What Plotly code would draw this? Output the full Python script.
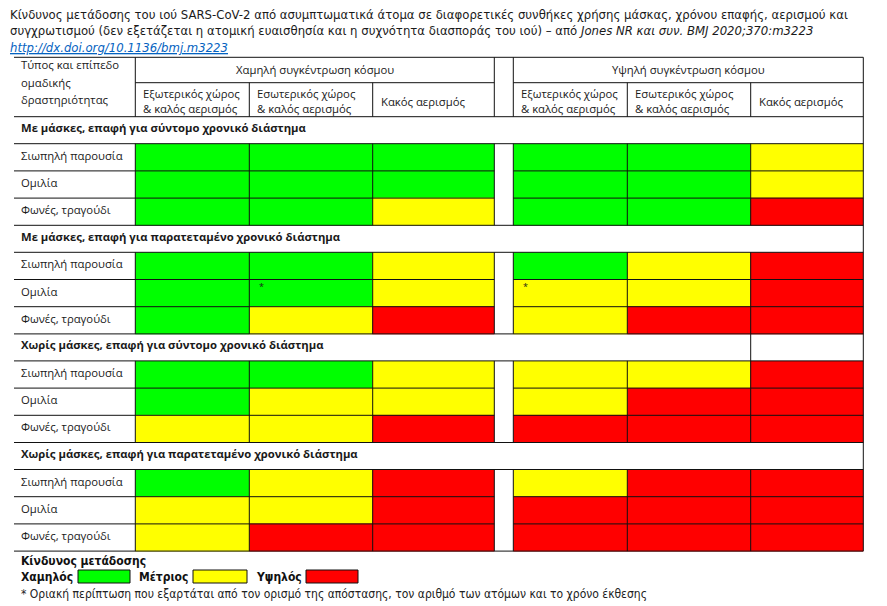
"""Risk of SARS-CoV-2 transmission table (Jones NR et al., BMJ 2020) drawn with Plotly.

Cells are heatmap bricks on a pixel-like axis, borders are one line trace.
"""
import plotly.graph_objects as go

# ---- data -------------------------------------------------------------
title_lines = [
    "Κίνδυνος μετάδοσης του ιού SARS-CoV-2 από ασυμπτωματικά άτομα σε διαφορετικές συνθήκες χρήσης μάσκας, χρόνου επαφής, αερισμού και",
    "συγχρωτισμού (δεν εξετάζεται η ατομική ευαισθησία και η συχνότητα διασποράς του ιού) – από <i>Jones NR και συν. BMJ 2020;370:m3223</i>",
]
doi_link = "http://dx.doi.org/10.1136/bmj.m3223"

row_header = ["Τύπος και επίπεδο", "ομαδικής", "δραστηριότητας"]
crowd_groups = ["Χαμηλή συγκέντρωση κόσμου", "Υψηλή συγκέντρωση κόσμου"]
settings = ["Εξωτερικός χώρος<br>& καλός αερισμός", "Εσωτερικός χώρος<br>& καλός αερισμός", "Κακός αερισμός"]
activities = ["Σιωπηλή παρουσία", "Ομιλία", "Φωνές, τραγούδι"]
sections = [
    "Με μάσκες, επαφή για σύντομο χρονικό διάστημα",
    "Με μάσκες, επαφή για παρατεταμένο χρονικό διάστημα",
    "Χωρίς μάσκες, επαφή για σύντομο χρονικό διάστημα",
    "Χωρίς μάσκες, επαφή για παρατεταμένο χρονικό διάστημα",
]

# risk level: 0 = low, 1 = moderate, 2 = high
# columns: low crowd (out, in, poor vent.), high crowd (out, in, poor vent.)
risk_masks_short = [[0, 0, 0, 0, 0, 1], [0, 0, 0, 0, 0, 1], [0, 0, 1, 0, 0, 2]]
risk_masks_long = [[0, 0, 1, 0, 1, 2], [0, 0, 1, 1, 1, 2], [0, 1, 2, 1, 2, 2]]
risk_nomask_short = [[0, 0, 1, 1, 1, 2], [0, 1, 1, 1, 2, 2], [1, 1, 2, 2, 2, 2]]
risk_nomask_long = [[0, 1, 2, 1, 2, 2], [1, 1, 2, 2, 2, 2], [1, 2, 2, 2, 2, 2]]
section_risks = [risk_masks_short, risk_masks_long, risk_nomask_short, risk_nomask_long]

# borderline cells (section, activity, column) marked with an asterisk
borderline_cells = [(1, 1, 1), (1, 1, 3)]

risk_levels = ["Χαμηλός", "Μέτριος", "Υψηλός"]
legend_title = "Κίνδυνος μετάδοσης"
footnote = "* Οριακή περίπτωση που εξαρτάται από τον ορισμό της απόστασης, τον αριθμό των ατόμων και το χρόνο έκθεσης"

# ---- layout constants (page pixel space; the page body has an 8px margin) ----
W, H = 887, 606
PAGE_OFF = 8
RISK_COLORS = ["#00ff00", "#ffff00", "#ff0000"]
LINE_COLOR = "#111111"
TABLE_FONT = "Open Sans, Noto Sans, sans-serif"
NARROW_FONT = "DejaVu Sans Condensed, Liberation Sans, sans-serif"

col_edges = [14, 135.3, 249.3, 372.7, 494.3, 513.3, 627.3, 750.7, 863.3]
x_left, x_right = col_edges[0], col_edges[-1]
gap_l, gap_r = col_edges[4], col_edges[5]
y_top, y_head_mid, y_head_bot = 57.3, 82.7, 116.7
sec_head_h = 27.0
row_h = 27.2

fig = go.Figure()
annotations = []
segs_x, segs_y = [], []


def seg(x0, y0, x1, y1):
    segs_x.extend([x0, x1, None])
    segs_y.extend([y0, y1, None])


def text(x, y, s, size=11.3, font=TABLE_FONT, color="#1a1a1a", xanchor="left"):
    annotations.append(dict(
        x=x, y=y, xref="x", yref="y", text=s, showarrow=False,
        xanchor=xanchor, yanchor="middle", align="left", borderpad=0,
        font=dict(family=font, size=size, color=color),
    ))


# title
for i, line in enumerate(title_lines):
    text(8.5, 14.5 + i * 16.3, line, size=13, font=NARROW_FONT, color="#1a1a1a")
text(8.5, 47, "<i><span style='text-decoration:underline'>" + doi_link + "</span></i>",
     size=13, font=NARROW_FONT, color="#0563c1")

# header
for i, s in enumerate(row_header):
    text(20, 64.5 + i * 17.5, s)
for g, name in enumerate(crowd_groups):
    a, b = (col_edges[1], col_edges[4]) if g == 0 else (col_edges[5], col_edges[8])
    text((a + b) / 2, 69, name, xanchor="center")
    for k, s in enumerate(settings):
        c0 = col_edges[1 + k] if g == 0 else col_edges[5 + k]
        text(c0 + 7, 101, s)

seg(x_left, y_top, x_right, y_top)
seg(col_edges[1], y_head_mid, gap_l, y_head_mid)
seg(gap_r, y_head_mid, x_right, y_head_mid)
seg(x_left, y_head_bot, x_right, y_head_bot)
for xc in [col_edges[1], gap_l, gap_r]:
    seg(xc, y_top, xc, y_head_bot)
for xc in [col_edges[2], col_edges[3], col_edges[6], col_edges[7]]:
    seg(xc, y_head_mid, xc, y_head_bot)

# sections
y = y_head_bot
colorscale = [[0, RISK_COLORS[0]], [0.5, RISK_COLORS[1]], [1, RISK_COLORS[2]]]
for s_idx, (sec_name, risks) in enumerate(zip(sections, section_risks)):
    sec_top = y
    sec_bot = sec_top + sec_head_h
    text(20, sec_top + 11, "<b>" + sec_name + "</b>")
    seg(x_left, sec_bot, x_right, sec_bot)
    if s_idx == 2:
        seg(col_edges[7], sec_top, col_edges[7], sec_bot)

    row_edges = [sec_bot + r * row_h for r in range(len(activities) + 1)]
    z = [row[:3] + [None] + row[3:] for row in risks]
    fig.add_trace(go.Heatmap(
        z=z, x=col_edges[1:], y=row_edges,
        zmin=0, zmax=2, colorscale=colorscale, showscale=False,
        hoverongaps=False,
        hovertemplate=sec_name + "<extra></extra>",
    ))

    for r, act in enumerate(activities):
        r0, r1 = row_edges[r], row_edges[r + 1]
        text(20, r0 + 11.5, act)
        if r < len(activities) - 1:
            seg(x_left, r1, gap_l, r1)
            seg(gap_r, r1, x_right, r1)
        else:
            seg(x_left, r1, x_right, r1)
    for xc in col_edges[1:8]:
        seg(xc, row_edges[0], xc, row_edges[-1])
    y = row_edges[-1]

for s_idx, r, c in borderline_cells:
    sec_top = y_head_bot + s_idx * (sec_head_h + 3 * row_h)
    r0 = sec_top + sec_head_h + r * row_h
    xc = col_edges[1 + c] if c < 3 else col_edges[2 + c]
    text(xc + 9, r0 + 7, "*", size=9)

seg(x_right, y_top, x_right, y)

fig.add_trace(go.Scatter(
    x=segs_x, y=segs_y, mode="lines",
    line=dict(color=LINE_COLOR, width=1),
    hoverinfo="skip", showlegend=False,
))

# legend
text(20, 561, "<b>" + legend_title + "</b>", size=12, font=NARROW_FONT, color="#111")
legend_label_x = [20, 138, 255]
legend_box_x = [(78, 130), (193, 247), (306, 358)]
shapes = []
for lvl, name in enumerate(risk_levels):
    text(legend_label_x[lvl], 577, "<b>" + name + "</b>", size=12, font=NARROW_FONT, color="#111")
    bx0, bx1 = legend_box_x[lvl]
    shapes.append(dict(
        type="rect", xref="x", yref="y", x0=bx0, x1=bx1, y0=570, y1=583,
        fillcolor=RISK_COLORS[lvl], line=dict(color="#111", width=1),
    ))
text(20, 594, footnote, size=12, font=NARROW_FONT, color="#222")

fig.update_layout(
    width=W - PAGE_OFF, height=H - PAGE_OFF,
    margin=dict(l=0, r=0, t=0, b=0),
    paper_bgcolor="white", plot_bgcolor="white",
    xaxis=dict(range=[PAGE_OFF, W], visible=False, fixedrange=True),
    yaxis=dict(range=[H, PAGE_OFF], visible=False, fixedrange=True),
    annotations=annotations,
    shapes=shapes,
    showlegend=False,
)

fig.write_html("out.html")
